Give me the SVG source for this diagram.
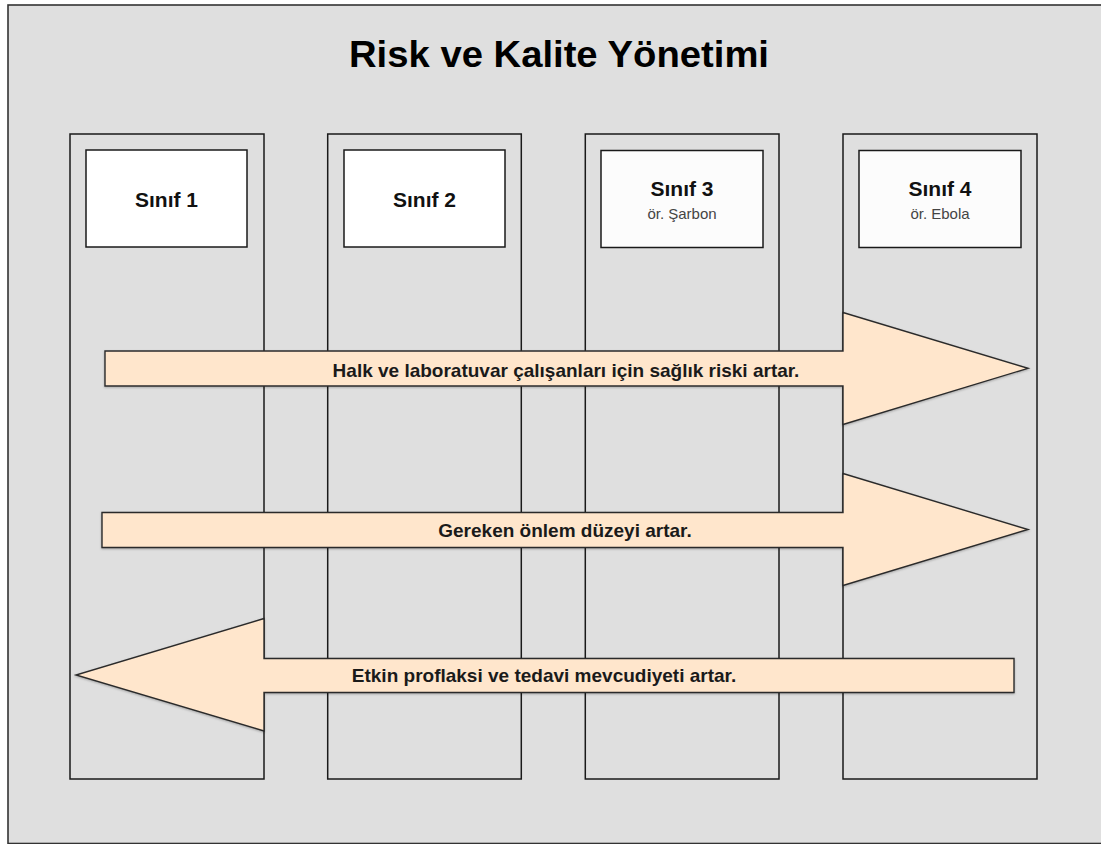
<svg xmlns="http://www.w3.org/2000/svg" width="1101" height="844" viewBox="0 0 1101 844">
<style>
.page{fill:#dfdfdf;stroke:#333;stroke-width:1.6}
.col{fill:none;stroke:#1a1a1a;stroke-width:1.5}
.box{stroke:#1a1a1a;stroke-width:1.5}
.arrow{fill:#ffe6cc;stroke:#2b2b2b;stroke-width:1.4;stroke-linejoin:miter}
.title{font-family:"Liberation Sans",Arial,sans-serif;font-weight:bold;font-size:37px;fill:#000;text-anchor:middle}
.head{font-family:"Liberation Sans",Arial,sans-serif;font-weight:bold;font-size:21px;fill:#111;text-anchor:middle}
.sub{font-family:"Liberation Sans",Arial,sans-serif;font-size:15px;fill:#444;text-anchor:middle}
.lbl{font-family:"Liberation Sans",Arial,sans-serif;font-weight:bold;font-size:19px;fill:#1a1a1a;text-anchor:middle}
</style>
<defs>
<filter id="sh" x="-5%" y="-20%" width="110%" height="140%">
<feDropShadow dx="0" dy="1" stdDeviation="0.8" flood-color="#000" flood-opacity="0.25"/>
</filter>
</defs>
<rect x="0" y="0" width="1101" height="844" fill="#ffffff"/>
<rect class="page" x="8" y="5" width="1100" height="838.5"/>
<text class="title" x="559" y="67" textLength="420" lengthAdjust="spacingAndGlyphs">Risk ve Kalite Yönetimi</text>

<g id="sinif1">
<rect class="col" x="70" y="134" width="194" height="645"/>
<rect class="box" x="86" y="150" width="161" height="97" fill="#ffffff"/>
<text class="head" x="166.5" y="206.5">Sınıf 1</text>
</g>
<g id="sinif2">
<rect class="col" x="327.7" y="134" width="193.6" height="645"/>
<rect class="box" x="344" y="150" width="161" height="97" fill="#ffffff"/>
<text class="head" x="424.5" y="206.5">Sınıf 2</text>
</g>
<g id="sinif3">
<rect class="col" x="585.3" y="134" width="193.7" height="645"/>
<rect class="box" x="601" y="150.5" width="162" height="97" fill="#fcfcfc"/>
<text class="head" x="682" y="196">Sınıf 3</text>
<text class="sub" x="682" y="219.3">ör. Şarbon</text>
</g>
<g id="sinif4">
<rect class="col" x="843" y="134" width="194" height="645"/>
<rect class="box" x="859" y="150.5" width="162" height="97" fill="#fcfcfc"/>
<text class="head" x="940" y="196">Sınıf 4</text>
<text class="sub" x="940" y="219.3">ör. Ebola</text>
</g>

<g id="connectors">
<g id="arrow-risk">
<polygon class="arrow" filter="url(#sh)" points="105,351 843,351 843,312.5 1028,368.3 843,424.5 843,386 105,386"/>
<text class="lbl" x="566" y="376.5">Halk ve laboratuvar çalışanları için sağlık riski artar.</text>
</g>
<g id="arrow-onlem">
<polygon class="arrow" filter="url(#sh)" points="102,512.5 843,512.5 843,473.5 1028,529.5 843,585.5 843,547.5 102,547.5"/>
<text class="lbl" x="565" y="536.7">Gereken önlem düzeyi artar.</text>
</g>
<g id="arrow-tedavi">
<polygon class="arrow" filter="url(#sh)" points="1014,658.5 264,658.5 264,618.5 76,675 264,731 264,692.5 1014,692.5"/>
<text class="lbl" x="544" y="681.7">Etkin proflaksi ve tedavi mevcudiyeti artar.</text>
</g>
</g>
</svg>
